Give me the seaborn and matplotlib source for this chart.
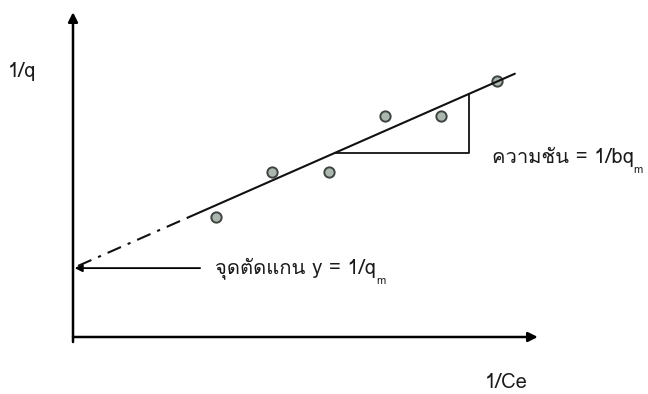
import matplotlib
matplotlib.use("Agg")
import matplotlib.pyplot as plt
from matplotlib import font_manager
from matplotlib.ft2font import FT2Font
import pandas as pd
import seaborn as sns

# Linearised isotherm: 1/q against 1/Ce (schematic units)
inv_ce = [2.55, 3.55, 4.57, 5.57, 6.57, 7.57]
inv_q = [2.14, 2.95, 2.95, 3.95, 3.95, 4.57]

# Fitted straight line 1/q = intercept + slope * (1/Ce)
intercept = 1.23
slope = 0.44
fit_range = [2.05, 7.89]       # solid part of the line
extrap_start = 0.09            # dash-dot extension back to the y axis
triangle_x = [4.68, 7.07]      # run of the slope triangle

x_label = "1/Ce"
y_label = "1/q"
intercept_label = "จุดตัดแกน y = 1/q"
slope_label = "ความชัน = 1/bq"
sub_label = "m"


def pick_thai_font():
    sample = "ความชันจุดตัดแกน"
    for fe in font_manager.fontManager.ttflist:
        try:
            cmap = FT2Font(fe.fname).get_charmap()
        except Exception:
            continue
        if all(ord(c) in cmap for c in sample):
            return fe.name
    return "DejaVu Sans"


sns.set_style("white")
thai_font = pick_thai_font()
plt.rcParams["font.family"] = [thai_font, "DejaVu Sans"]

fig = plt.figure(figsize=(6.48, 3.94), dpi=100)
ax = fig.add_axes([0, 0, 1, 1])
ax.set_xlim(-1.3036, 10.2679)
ax.set_ylim(-1.0179, 6.0179)
ax.axis("off")

# coordinate axes with arrow heads
arrow_kw = dict(arrowstyle="-|>", lw=1.8, color="black", mutation_scale=14,
                shrinkA=0, shrinkB=0)
ax.annotate("", xy=(8.30, 0), xytext=(0, 0), arrowprops=arrow_kw)
ax.annotate("", xy=(0, 5.80), xytext=(0, -0.09), arrowprops=arrow_kw)

# data points
pts = pd.DataFrame({"inv_ce": inv_ce, "inv_q": inv_q})
sns.scatterplot(data=pts, x="inv_ce", y="inv_q", ax=ax, s=55,
                color="#aab6ae", edgecolor="#3f4440", linewidth=1.4, zorder=3)

# fitted line and its extrapolation to the intercept
line_df = pd.DataFrame({"x": fit_range,
                        "y": [intercept + slope * v for v in fit_range]})
sns.lineplot(data=line_df, x="x", y="y", ax=ax, color="#111111", lw=1.5,
             zorder=4)
ext_x = [extrap_start, fit_range[0]]
ax.plot(ext_x, [intercept + slope * v for v in ext_x], color="#111111",
        lw=1.5, linestyle=(0, (7, 3.5, 1.5, 3.5)), zorder=4)

# slope triangle
tx0, tx1 = triangle_x
ty0 = intercept + slope * tx0
ty1 = intercept + slope * tx1
ax.plot([tx0, tx1, tx1], [ty0, ty0, ty1], color="#111111", lw=1.3)

# intercept pointer
ax.annotate("", xy=(0.03, intercept), xytext=(2.27, intercept),
            arrowprops=dict(arrowstyle="-|>", lw=1.3, color="black",
                            mutation_scale=11, shrinkA=0, shrinkB=0))

fs = 14.5
txt_color = "#1a1a1a"
t1 = ax.text(2.54, intercept, intercept_label, fontsize=fs, va="center",
             ha="left", color=txt_color)
ax.annotate(sub_label, xy=(1.0, 0.12), xycoords=t1, fontsize=8, va="top",
            ha="left", color=txt_color)
t2 = ax.text(7.48, 3.21, slope_label, fontsize=fs, va="center", ha="left",
             color=txt_color)
ax.annotate(sub_label, xy=(1.0, 0.12), xycoords=t2, fontsize=8, va="top",
            ha="left", color=txt_color)
ax.text(-1.16, 4.75, y_label, fontsize=fs, va="center", ha="left",
        color=txt_color)
ax.text(7.36, -0.82, x_label, fontsize=fs, va="center", ha="left",
        color=txt_color)

ax.set_xlabel("")
ax.set_ylabel("")
fig.savefig("out.png", dpi=100, facecolor="white")
